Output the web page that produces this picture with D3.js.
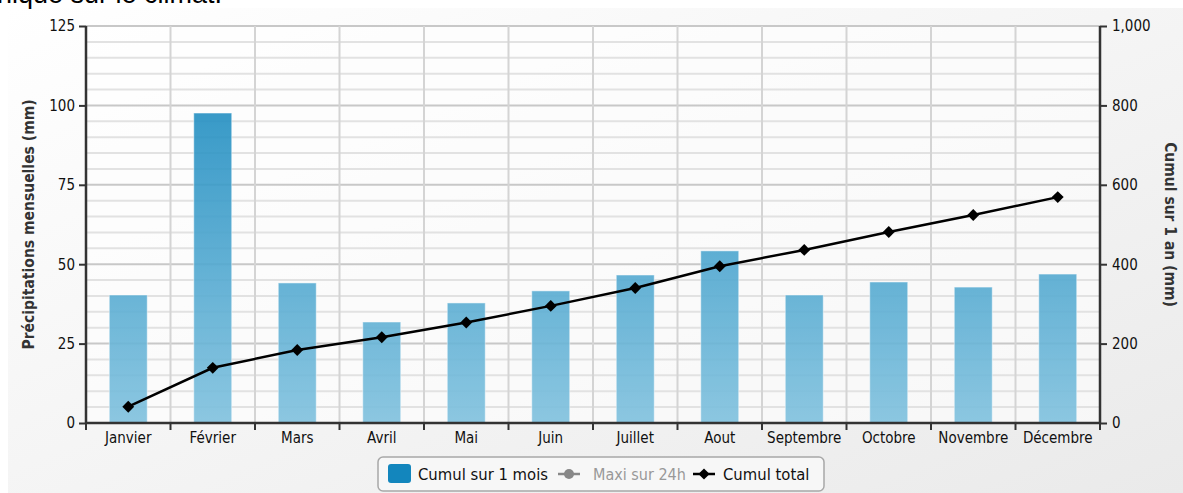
<!DOCTYPE html>
<html>
<head>
<meta charset="utf-8">
<script src="https://cdn.jsdelivr.net/npm/d3@7"></script>
<style>
  body { margin: 0; background: #fff; overflow: hidden; }
  #top { position: absolute; left: -3px; top: -21px; font: 27px "Liberation Sans", Arial, sans-serif; color: #000; white-space: nowrap; }
  #chart { position: absolute; left: 0; top: 0; }
  text { font-family: "DejaVu Sans Condensed", "DejaVu Sans", sans-serif; }
</style>
</head>
<body>
<div id="chart"></div>
<div id="top">nique sur le climat.</div>
<script>
  var months = ['Janvier', 'Février', 'Mars', 'Avril', 'Mai', 'Juin', 'Juillet', 'Aout', 'Septembre', 'Octobre', 'Novembre', 'Décembre'];
  var monthly = [40.3, 97.6, 44.1, 31.8, 37.8, 41.6, 46.6, 54.2, 40.3, 44.4, 42.8, 46.9];
  var cumul = [41, 139, 184, 216, 253, 295, 340, 395, 436, 481, 524, 569];
  var leftTicks = [0, 25, 50, 75, 100, 125];
  var rightTicks = [0, 200, 400, 600, 800, 1000];

  var W = 1183, H = 493;
  var margin = { top: 26, right: 83, bottom: 70, left: 86 };
  var width = W - margin.left - margin.right;
  var height = H - margin.top - margin.bottom;

  var svg = d3.select('#chart').append('svg')
    .attr('width', W).attr('height', H);

  var defs = svg.append('defs');
  var bg = defs.append('linearGradient').attr('id', 'bg')
    .attr('x1', 0).attr('y1', 0).attr('x2', 1).attr('y2', 1);
  bg.append('stop').attr('offset', '0%').attr('stop-color', '#ffffff');
  bg.append('stop').attr('offset', '100%').attr('stop-color', '#eaeaea');

  var barGrad = defs.append('linearGradient').attr('id', 'barGrad')
    .attr('gradientUnits', 'userSpaceOnUse')
    .attr('x1', 0).attr('y1', margin.top).attr('x2', 0).attr('y2', margin.top + height);
  barGrad.append('stop').attr('offset', '0%').attr('stop-color', '#1286bd');
  barGrad.append('stop').attr('offset', '100%').attr('stop-color', '#88c6e1');

  // background panel
  svg.append('rect').attr('x', 8).attr('y', 8).attr('width', W - 8).attr('height', H - 8)
    .attr('fill', 'url(#bg)');

  var g = svg.append('g')
    .attr('transform', 'translate(' + margin.left + ',' + margin.top + ')');

  var x = d3.scaleBand().domain(months).range([0, width]).paddingInner(0).paddingOuter(0);
  var y = d3.scaleLinear().domain([0, 125]).range([height, 0]);
  var y2 = d3.scaleLinear().domain([0, 1000]).range([height, 0]);

  g.append('rect').attr('width', width).attr('height', height).attr('fill', '#fff').attr('opacity', 0.6);

  // minor gridlines
  g.selectAll('.minor')
    .data(d3.range(0, 126, 5).filter(function(d) { return d % 25 != 0; }))
    .enter().append('line')
    .attr('x1', 0).attr('x2', width)
    .attr('y1', function(d) { return y(d); }).attr('y2', function(d) { return y(d); })
    .attr('stroke', '#e2e2e2').attr('stroke-width', 2);

  // major gridlines
  g.selectAll('.major')
    .data(leftTicks)
    .enter().append('line')
    .attr('x1', 0).attr('x2', width)
    .attr('y1', function(d) { return y(d); }).attr('y2', function(d) { return y(d); })
    .attr('stroke', '#c8c8c8').attr('stroke-width', 2);

  // vertical gridlines at category boundaries
  g.selectAll('.vgrid')
    .data(months.slice(1))
    .enter().append('line')
    .attr('x1', function(d) { return x(d); }).attr('x2', function(d) { return x(d); })
    .attr('y1', 0).attr('y2', height)
    .attr('stroke', '#d4d4d4').attr('stroke-width', 2);

  // bars
  var bw = 38;
  g.selectAll('.bar')
    .data(monthly)
    .enter().append('rect')
    .attr('class', 'bar')
    .attr('x', function(d, i) { return x(months[i]) + x.bandwidth() / 2 - bw / 2; })
    .attr('y', function(d) { return y(d); })
    .attr('width', bw)
    .attr('height', function(d) { return height - y(d); })
    .attr('fill', 'url(#barGrad)')
    .attr('opacity', 0.9)
    .attr('stroke', 'rgba(255,255,255,0.5)').attr('stroke-width', 1);

  // axes
  var axL = g.append('g').call(d3.axisLeft(y).tickValues(leftTicks).tickSize(7).tickPadding(4));
  var axR = g.append('g').attr('transform', 'translate(' + width + ',0)')
    .call(d3.axisRight(y2).tickValues(rightTicks).tickSize(7).tickPadding(5).tickFormat(d3.format(',')));
  var axB = g.append('g').attr('transform', 'translate(0,' + height + ')')
    .call(d3.axisBottom(x).tickSize(0).tickPadding(9));

  // bottom ticks at category boundaries
  g.selectAll('.btick')
    .data(months.concat(['end']))
    .enter().append('line')
    .attr('x1', function(d, i) { return i * x.step(); }).attr('x2', function(d, i) { return i * x.step(); })
    .attr('y1', height).attr('y2', height + 7)
    .attr('stroke', '#333').attr('stroke-width', 2);

  [axL, axR, axB].forEach(function(a) {
    a.select('.domain').attr('stroke', '#333').attr('stroke-width', 2.5);
    a.selectAll('.tick line').attr('stroke', '#333').attr('stroke-width', 2);
    a.selectAll('text').attr('fill', '#111').style('font-size', '15px');
  });
  axL.select('.domain').attr('d', 'M0,0V' + height);
  axR.select('.domain').attr('d', 'M0,0V' + height);
  axB.select('.domain').attr('d', 'M0,0H' + width);

  // axis titles
  svg.append('text')
    .attr('transform', 'translate(34,' + (margin.top + height / 2) + ') rotate(-90)')
    .attr('text-anchor', 'middle')
    .style('font-size', '15.5px').style('font-weight', 'bold').attr('fill', '#333')
    .text('Précipitations mensuelles (mm)');
  svg.append('text')
    .attr('transform', 'translate(1165,' + (margin.top + height / 2) + ') rotate(90)')
    .attr('text-anchor', 'middle')
    .style('font-size', '15.5px').style('font-weight', 'bold').attr('fill', '#333')
    .text('Cumul sur 1 an (mm)');

  // cumulative line
  var line = d3.line()
    .x(function(d, i) { return x(months[i]) + x.bandwidth() / 2; })
    .y(function(d) { return y2(d); });
  g.append('path').datum(cumul)
    .attr('d', line).attr('fill', 'none').attr('stroke', '#000').attr('stroke-width', 2.5);
  g.selectAll('.pt')
    .data(cumul)
    .enter().append('path')
    .attr('d', d3.symbol().type(d3.symbolDiamond2).size(90))
    .attr('transform', function(d, i) {
      return 'translate(' + (x(months[i]) + x.bandwidth() / 2) + ',' + y2(d) + ')';
    })
    .attr('fill', '#000');

  // legend
  var lg = svg.append('g').attr('transform', 'translate(378,457)');
  lg.append('rect').attr('width', 446).attr('height', 34).attr('rx', 5)
    .attr('fill', '#f7f7f7').attr('stroke', '#a8a8a8').attr('stroke-width', 1.5);
  lg.append('rect').attr('x', 10).attr('y', 7).attr('width', 23).attr('height', 19).attr('rx', 3)
    .attr('fill', '#1386bd');
  lg.append('text').attr('x', 40).attr('y', 23).style('font-size', '16.5px').attr('fill', '#111')
    .text('Cumul sur 1 mois');
  lg.append('line').attr('x1', 180).attr('x2', 202).attr('y1', 17).attr('y2', 17)
    .attr('stroke', '#888').attr('stroke-width', 2.5);
  lg.append('circle').attr('cx', 191).attr('cy', 17).attr('r', 5).attr('fill', '#888');
  lg.append('text').attr('x', 215).attr('y', 23).style('font-size', '16px').attr('fill', '#999')
    .text('Maxi sur 24h');
  lg.append('line').attr('x1', 315).attr('x2', 337).attr('y1', 17).attr('y2', 17)
    .attr('stroke', '#000').attr('stroke-width', 2.5);
  lg.append('path').attr('d', d3.symbol().type(d3.symbolDiamond2).size(80))
    .attr('transform', 'translate(326,17)').attr('fill', '#000');
  lg.append('text').attr('x', 345).attr('y', 23).style('font-size', '16.5px').attr('fill', '#111')
    .text('Cumul total');
</script>
</body>
</html>
